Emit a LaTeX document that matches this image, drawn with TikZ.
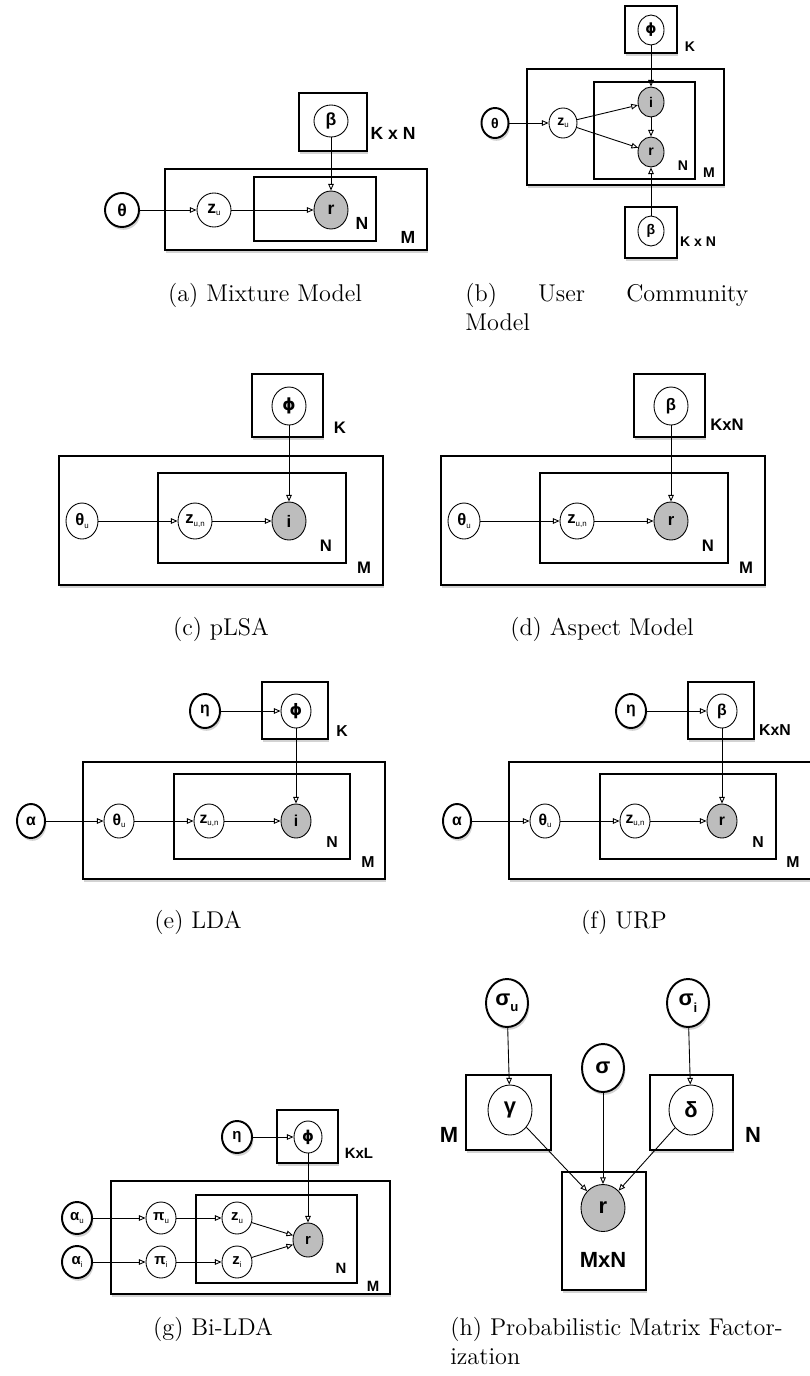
\documentclass[tikz,border=0pt]{standalone}
\usepackage{fontspec}
\newfontfamily\lbl{Liberation Sans}
\newfontfamily\djv{DejaVu Sans}
\usetikzlibrary{arrows.meta, shapes.geometric, shadows}

\newcommand{\lsz}[1]{\lbl\bfseries\fontsize{#1}{#1}\selectfont}
\newcommand{\sbs}[1]{\raisebox{-0.3ex}{\mdseries\fontsize{4.5}{4.5}\selectfont #1}}
\newcommand{\sbb}[1]{\raisebox{-0.55ex}{\fontsize{7.5}{7.5}\selectfont #1}}
\newcommand{\fillgap}{\hskip 0pt plus 1fill\relax}
\newcommand{\vphi}{{\djv\bfseries ϕ}}

\tikzset{
	var/.style={ellipse, draw, fill=white, inner sep=0pt, line width=0.5pt},
	obs/.style={var, fill=black!26},
	root/.style={var, line width=1.1pt, drop shadow={shadow xshift=0.8pt, shadow yshift=-1.6pt, opacity=0.35}},
	wh/.style 2 args={minimum width=#1*0.02cm, minimum height=#2*0.02cm},
	plate/.style={draw, line width=0.7pt, fill=white, drop shadow={shadow xshift=0.8pt, shadow yshift=-1.8pt, opacity=0.35}},
	inplate/.style={draw, line width=0.6pt},
	arr/.style={-{Triangle[open, length=3.8pt, width=3.2pt]}, line width=0.5pt},
	captxt/.style={font=\fontsize{13.8}{17}\selectfont, inner sep=0pt}
}

\begin{document}
\begin{tikzpicture}[x=0.02cm, y=-0.02cm]
	\useasboundingbox (0,0) rectangle (810,1376);

	% (a) mixture model
	\begin{scope}[every node/.append style={font=\lsz{10}}]
		\draw[plate] (299,93) rectangle (367,151);
		\draw[plate] (165,169) rectangle (427,250);
		\draw[inplate] (254,177) rectangle (376,241);
		\node[var, wh={34}{32}] (a_be) at (331,121) {β};
		\node[root, wh={34}{34}] (a_th) at (122,210) {θ};
		\node[var, wh={34}{34}] (a_z) at (214,210) {z\sbs{u}};
		\node[obs, wh={34}{38}] (a_r) at (331,210) {r};
		\node (a_kn) at (393,133) {K x N};
		\node (a_n) at (362,223) {N};
		\node (a_m) at (408,237) {M};
		\draw[arr] (a_th) -- (a_z);
		\draw[arr] (a_z) -- (a_r);
		\draw[arr] (a_be) -- (a_r);
		\node[captxt, anchor=base] (a_cap) at (265,301) {(a) Mixture Model};
	\end{scope}

	% (b) user community model
	\begin{scope}[every node/.append style={font=\lsz{8}}]
		\draw[plate] (625,6) rectangle (677,53);
		\draw[plate] (527,69) rectangle (724,185);
		\draw[inplate] (594,82) rectangle (695,179);
		\draw[plate] (625,207) rectangle (677,258);
		\node[var, wh={26}{30}] (b_ph) at (651,30) {\vphi};
		\node[root, wh={27}{30}] (b_th) at (495,123) {θ};
		\node[var, wh={28}{30}] (b_z) at (563,123) {z\sbs{u}};
		\node[obs, wh={26}{30}] (b_i) at (651,102) {i};
		\node[obs, wh={26}{30}] (b_r) at (651,152) {r};
		\node[var, wh={26}{30}] (b_be) at (651,231) {β};
		\node (b_k) at (690,47) {K};
		\node (b_n) at (683,166) {N};
		\node (b_m) at (709,173) {M};
		\node (b_kn) at (698,242) {K x N};
		\draw[arr] (b_th) -- (b_z);
		\draw[arr] (b_z) -- (b_i);
		\draw[arr] (b_z) -- (b_r);
		\draw[arr] (b_i) -- (b_r);
		\draw[arr] (b_ph) -- (b_i);
		\draw[arr] (b_be) -- (b_r);
		\node[captxt, text width=5.66cm, align=left, anchor=base west] (b_cap) at (465,301)
			{(b)\fillgap User\fillgap Community\\Model};
	\end{scope}

	% (c) pLSA
	\begin{scope}[every node/.append style={font=\lsz{9.5}}]
		\draw[plate] (252,374) rectangle (323,437);
		\draw[plate] (59,456) rectangle (383,585);
		\draw[inplate] (158,473) rectangle (346,563);
		\node[var, wh={34}{38}] (c_ph) at (289,406) {\vphi};
		\node[var, wh={32}{36}] (c_th) at (82,521) {θ\sbs{u}};
		\node[var, wh={34}{36}] (c_z) at (195,521) {z\sbs{u,n}};
		\node[obs, wh={34}{38}] (c_i) at (289,521) {i};
		\node (c_k) at (340,428) {K};
		\node (c_n) at (326,546) {N};
		\node (c_m) at (364,568) {M};
		\draw[arr] (c_th) -- (c_z);
		\draw[arr] (c_z) -- (c_i);
		\draw[arr] (c_ph) -- (c_i);
		\node[captxt, anchor=base] (c_cap) at (221,635) {(c) pLSA};
	\end{scope}

	% (d) aspect model
	\begin{scope}[every node/.append style={font=\lsz{9.5}}]
		\draw[plate] (634,374) rectangle (705,437);
		\draw[plate] (441,456) rectangle (765,585);
		\draw[inplate] (540,473) rectangle (728,563);
		\node[var, wh={34}{38}] (d_be) at (671,406) {β};
		\node[var, wh={32}{36}] (d_th) at (464,521) {θ\sbs{u}};
		\node[var, wh={34}{36}] (d_z) at (577,521) {z\sbs{u,n}};
		\node[obs, wh={34}{38}] (d_r) at (671,521) {r};
		\node (d_kn) at (727,425) {KxN};
		\node (d_n) at (708,546) {N};
		\node (d_m) at (746,568) {M};
		\draw[arr] (d_th) -- (d_z);
		\draw[arr] (d_z) -- (d_r);
		\draw[arr] (d_be) -- (d_r);
		\node[captxt, anchor=base] (d_cap) at (602,635) {(d) Aspect Model};
	\end{scope}

	% (e) LDA
	\begin{scope}[every node/.append style={font=\lsz{9}}]
		\draw[plate] (262,682) rectangle (328,739);
		\draw[plate] (83,762) rectangle (385,879);
		\draw[inplate] (174,774) rectangle (350,859);
		\node[root, wh={30}{34}] (e_et) at (205,711) {η};
		\node[var, wh={30}{34}] (e_ph) at (296,711) {\vphi};
		\node[root, wh={28}{34}] (e_al) at (31,821) {α};
		\node[var, wh={30}{34}] (e_th) at (119,821) {θ\sbs{u}};
		\node[var, wh={30}{34}] (e_z) at (209,821) {z\sbs{u,n}};
		\node[obs, wh={30}{34}] (e_i) at (296,821) {i};
		\node (e_k) at (342,731) {K};
		\node (e_n) at (332,842) {N};
		\node (e_m) at (368,862) {M};
		\draw[arr] (e_et) -- (e_ph);
		\draw[arr] (e_al) -- (e_th);
		\draw[arr] (e_th) -- (e_z);
		\draw[arr] (e_z) -- (e_i);
		\draw[arr] (e_ph) -- (e_i);
		\node[captxt, anchor=base] (e_cap) at (198,928) {(e) LDA};
	\end{scope}

	% (f) URP
	\begin{scope}[every node/.append style={font=\lsz{9}}]
		\draw[plate] (688,682) rectangle (754,739);
		\draw[plate] (509,762) rectangle (818,879);
		\draw[inplate] (600,774) rectangle (776,859);
		\node[root, wh={30}{34}] (f_et) at (631,711) {η};
		\node[var, wh={30}{34}] (f_be) at (722,711) {β};
		\node[root, wh={28}{34}] (f_al) at (457,821) {α};
		\node[var, wh={30}{34}] (f_th) at (545,821) {θ\sbs{u}};
		\node[var, wh={30}{34}] (f_z) at (635,821) {z\sbs{u,n}};
		\node[obs, wh={30}{34}] (f_r) at (722,821) {r};
		\node (f_kn) at (775,730) {KxN};
		\node (f_n) at (758,842) {N};
		\node (f_m) at (793,862) {M};
		\draw[arr] (f_et) -- (f_be);
		\draw[arr] (f_al) -- (f_th);
		\draw[arr] (f_th) -- (f_z);
		\draw[arr] (f_z) -- (f_r);
		\draw[arr] (f_be) -- (f_r);
		\node[captxt, anchor=base] (f_cap) at (624,928) {(f) URP};
	\end{scope}

	% (g) Bi-LDA
	\begin{scope}[every node/.append style={font=\lsz{8.5}}]
		\draw[plate] (277,1110) rectangle (338,1163);
		\draw[plate] (111,1181) rectangle (390,1294);
		\draw[inplate] (196,1195) rectangle (357,1283);
		\node[root, wh={30}{32}] (g_et) at (237,1137) {η};
		\node[var, wh={28}{32}] (g_ph) at (308,1137) {\vphi};
		\node[root, wh={30}{32}] (g_au) at (77,1218) {α\sbs{u}};
		\node[root, wh={30}{32}] (g_ai) at (77,1262) {α\sbs{i}};
		\node[var, wh={30}{32}] (g_pu) at (161,1218) {π\sbs{u}};
		\node[var, wh={30}{32}] (g_pi) at (161,1262) {π\sbs{i}};
		\node[var, wh={30}{32}] (g_zu) at (237,1218) {z\sbs{u}};
		\node[var, wh={30}{32}] (g_zi) at (237,1262) {z\sbs{i}};
		\node[obs, wh={30}{34}] (g_r) at (308,1240) {r};
		\node (g_kl) at (359,1153) {KxL};
		\node (g_n) at (341,1268) {N};
		\node (g_m) at (373,1286) {M};
		\draw[arr] (g_et) -- (g_ph);
		\draw[arr] (g_ph) -- (g_r);
		\draw[arr] (g_au) -- (g_pu);
		\draw[arr] (g_pu) -- (g_zu);
		\draw[arr] (g_zu) -- (g_r);
		\draw[arr] (g_ai) -- (g_pi);
		\draw[arr] (g_pi) -- (g_zi);
		\draw[arr] (g_zi) -- (g_r);
		\node[captxt, anchor=base] (g_cap) at (213,1335) {(g) Bi-LDA};
	\end{scope}

	% (h) probabilistic matrix factorization
	\begin{scope}[every node/.append style={font=\lsz{12.5}}]
		\draw[plate] (466,1075) rectangle (551,1150);
		\draw[plate] (650,1075) rectangle (733,1150);
		\draw[plate] (562,1172) rectangle (646,1290);
		\node[root, wh={42}{48}] (h_su) at (507,1003) {σ\sbb{u}};
		\node[root, wh={42}{48}] (h_si) at (688,1003) {σ\sbb{i}};
		\node[root, wh={42}{48}] (h_s) at (603,1068) {σ};
		\node[var, wh={44}{50}] (h_ga) at (510,1110) {γ};
		\node[var, wh={44}{50}] (h_de) at (691,1110) {δ};
		\node[obs, wh={44}{47}] (h_r) at (603,1208) {r};
		\node (h_m) at (449,1135) {M};
		\node (h_n) at (753,1135) {N};
		\node (h_mn) at (603,1260) {MxN};
		\draw[arr] (h_su) -- (h_ga);
		\draw[arr] (h_si) -- (h_de);
		\draw[arr] (h_s) -- (h_r);
		\draw[arr] (h_ga) -- (h_r);
		\draw[arr] (h_de) -- (h_r);
		\node[captxt, text width=7.4cm, align=left, anchor=base west] (h_cap) at (450,1335)
			{(h) Probabilistic Matrix Factor-\\ization};
	\end{scope}
\end{tikzpicture}
\end{document}
